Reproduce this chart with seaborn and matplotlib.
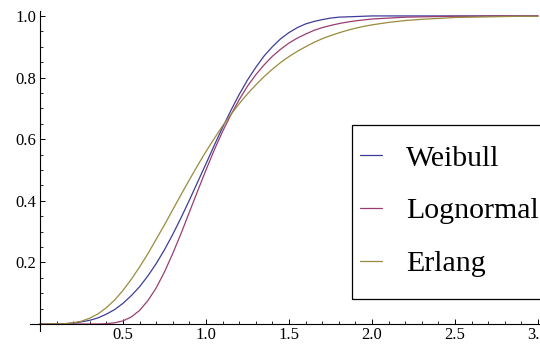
import matplotlib
matplotlib.use("Agg")
import matplotlib.pyplot as plt
import matplotlib.patches as mpatches
from matplotlib.ticker import MultipleLocator
import pandas as pd
import seaborn as sns

# sample points
x_vals = [0.0, 0.05, 0.1, 0.15, 0.2, 0.25, 0.3, 0.35, 0.4, 0.45,
          0.5, 0.55, 0.6, 0.65, 0.7, 0.75, 0.8, 0.85, 0.9, 0.95,
          1.0, 1.05, 1.1, 1.15, 1.2, 1.25, 1.3, 1.35, 1.4, 1.45,
          1.5, 1.55, 1.6, 1.65, 1.7, 1.75, 1.8, 1.85, 1.9, 1.95,
          2.0, 2.1, 2.2, 2.3, 2.4, 2.5, 2.6, 2.7, 2.8, 2.9, 3.0]

weibull = [0.0, 0.0, 0.0, 0.001, 0.003, 0.007, 0.012, 0.020, 0.032, 0.047,
           0.067, 0.092, 0.121, 0.156, 0.196, 0.241, 0.291, 0.345, 0.402, 0.461,
           0.520, 0.580, 0.638, 0.693, 0.745, 0.792, 0.833, 0.870, 0.900, 0.926,
           0.946, 0.962, 0.974, 0.982, 0.988, 0.993, 0.996, 0.997, 0.998, 0.999,
           1.0, 1.0, 1.0, 1.0, 1.0, 1.0, 1.0, 1.0, 1.0, 1.0, 1.0]

lognormal = [0.0, 0.0, 0.0, 0.0, 0.0, 0.0, 0.0, 0.0, 0.001, 0.004,
             0.010, 0.023, 0.044, 0.076, 0.117, 0.169, 0.229, 0.294, 0.363, 0.432,
             0.500, 0.565, 0.625, 0.679, 0.728, 0.772, 0.809, 0.841, 0.869, 0.892,
             0.912, 0.928, 0.941, 0.953, 0.962, 0.969, 0.975, 0.980, 0.984, 0.987,
             0.990, 0.993, 0.996, 0.997, 0.998, 0.999, 0.999, 1.0, 1.0, 1.0, 1.0]

erlang = [0.0, 0.0, 0.0, 0.001, 0.004, 0.009, 0.019, 0.033, 0.053, 0.078,
          0.109, 0.145, 0.185, 0.228, 0.275, 0.322, 0.371, 0.420, 0.468, 0.515,
          0.560, 0.602, 0.643, 0.680, 0.715, 0.747, 0.776, 0.803, 0.827, 0.849,
          0.868, 0.885, 0.900, 0.914, 0.926, 0.936, 0.945, 0.953, 0.960, 0.966,
          0.971, 0.979, 0.985, 0.989, 0.992, 0.995, 0.996, 0.997, 0.998, 0.999, 0.999]

names = ["Weibull", "Lognormal", "Erlang"]
colors = ["#3d3d99", "#993d71", "#998b3d"]

df = pd.concat([
    pd.DataFrame({"x": x_vals, "F": weibull, "dist": "Weibull"}),
    pd.DataFrame({"x": x_vals, "F": lognormal, "dist": "Lognormal"}),
    pd.DataFrame({"x": x_vals, "F": erlang, "dist": "Erlang"}),
])

sns.set_style("ticks")
plt.rcParams["font.family"] = ["Liberation Serif", "DejaVu Serif"]
plt.rcParams["text.color"] = "black"
plt.rcParams["xtick.color"] = "black"
plt.rcParams["ytick.color"] = "black"

fig = plt.figure(figsize=(5.4, 3.45), dpi=100)
ax = fig.add_axes([30 / 540, 14 / 345, 510 / 540, 320 / 345])

sns.lineplot(data=df, x="x", y="F", hue="dist", hue_order=names,
             palette=colors, linewidth=0.9, ax=ax)

ax.set_xlim(-0.06, 3.012)
ax.set_ylim(-0.0227, 1.016)
ax.spines["left"].set_position(("data", 0))
ax.spines["bottom"].set_position(("data", 0))
ax.spines["top"].set_visible(False)
ax.spines["right"].set_visible(False)
for s in ["left", "bottom"]:
    ax.spines[s].set_linewidth(0.8)
    ax.spines[s].set_color("black")

ax.set_xticks([0.5, 1.0, 1.5, 2.0, 2.5, 3.0])
ax.set_yticks([0.2, 0.4, 0.6, 0.8, 1.0])
ax.xaxis.set_minor_locator(MultipleLocator(0.1))
ax.yaxis.set_minor_locator(MultipleLocator(0.05))
ax.tick_params(which="major", direction="in", length=3.5, width=0.7,
               labelsize=12, color="black", labelcolor="black")
ax.tick_params(which="minor", direction="in", length=2.0, width=0.6,
               color="black")
ax.tick_params(axis="x", pad=2.5)
ax.tick_params(axis="y", pad=2.5)
ax.set_xlabel("")
ax.set_ylabel("")

handles, labels = ax.get_legend_handles_labels()
ax.legend(handles, labels, loc="upper left",
          bbox_to_anchor=(360 / 540, 1 - 145 / 345),
          bbox_transform=fig.transFigure, frameon=False,
          fontsize=21.5, borderpad=0, borderaxespad=0,
          handlelength=0.74, handletextpad=0.8, labelspacing=0.86,
          labelcolor="black")
for ln in ax.get_legend().get_lines():
    ln.set_linewidth(0.9)

fig.patches.append(mpatches.Rectangle(
    (351.5 / 540, 1 - 298.5 / 345), 200 / 540, 173.5 / 345,
    transform=fig.transFigure, fill=False, edgecolor="black", linewidth=0.9))

fig.savefig("out.png", dpi=100)
